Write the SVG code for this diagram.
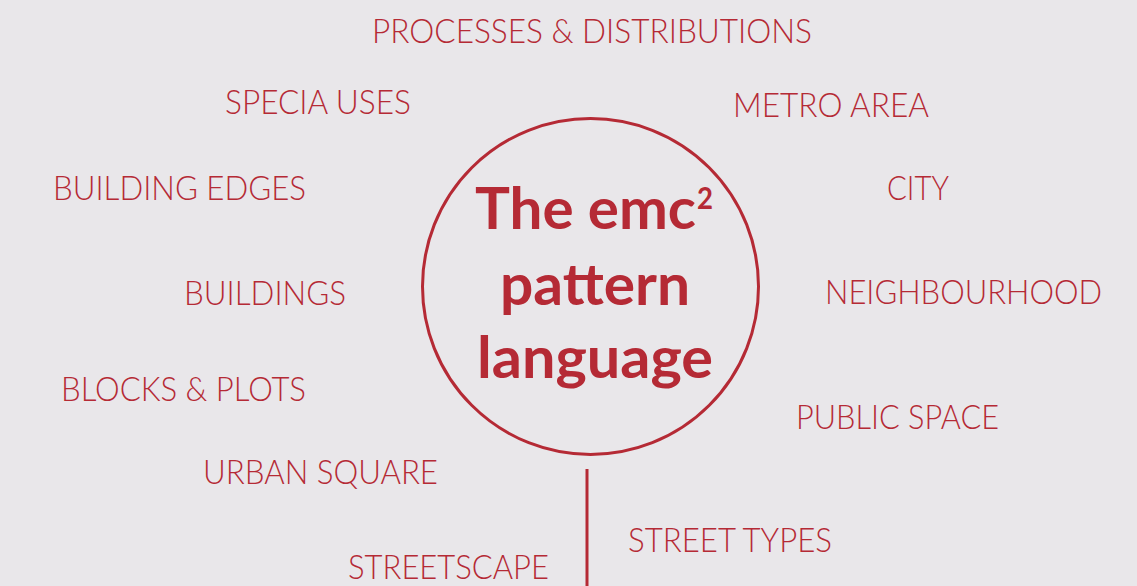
<svg xmlns="http://www.w3.org/2000/svg" width="1137" height="586" viewBox="0 0 1137 586">
<style>
.lbl{font-family:Lato,"Open Sans","Liberation Sans",sans-serif;font-weight:300;font-size:32.5px;fill:#b52a35}
.ttl{font-family:Lato,"Open Sans","Liberation Sans",sans-serif;font-weight:bold;font-size:58px;fill:#b52a35}
.ln{stroke:#b52a35;fill:none;stroke-width:3}
</style>
<rect width="1137" height="586" fill="#e9e7ea"/>
<g id="connectors">
<line class="ln" x1="587" y1="469" x2="587" y2="586"/>
</g>
<g id="center">
<circle class="ln" cx="590.5" cy="286.5" r="168"/>
<text class="ttl" x="475" y="229" textLength="221" lengthAdjust="spacingAndGlyphs">The emc</text>
<text class="ttl" x="697" y="209" style="font-size:31px" textLength="16" lengthAdjust="spacingAndGlyphs">2</text>
<text class="ttl" x="500" y="305" textLength="190" lengthAdjust="spacingAndGlyphs">pattern</text>
<text class="ttl" x="477" y="378" textLength="236" lengthAdjust="spacingAndGlyphs">language</text>
</g>
<g id="processes"><text class="lbl" x="372" y="43" textLength="440" lengthAdjust="spacingAndGlyphs">PROCESSES &amp; DISTRIBUTIONS</text></g>
<g id="specia-uses"><text class="lbl" x="225" y="114" textLength="186" lengthAdjust="spacingAndGlyphs">SPECIA USES</text></g>
<g id="metro-area"><text class="lbl" x="733" y="117" textLength="196" lengthAdjust="spacingAndGlyphs">METRO AREA</text></g>
<g id="building-edges"><text class="lbl" x="53" y="200" textLength="253" lengthAdjust="spacingAndGlyphs">BUILDING EDGES</text></g>
<g id="city"><text class="lbl" x="887" y="200" textLength="62" lengthAdjust="spacingAndGlyphs">CITY</text></g>
<g id="buildings"><text class="lbl" x="184" y="305" textLength="162" lengthAdjust="spacingAndGlyphs">BUILDINGS</text></g>
<g id="neighbourhood"><text class="lbl" x="825" y="304" textLength="277" lengthAdjust="spacingAndGlyphs">NEIGHBOURHOOD</text></g>
<g id="blocks-plots"><text class="lbl" x="61" y="401" textLength="245" lengthAdjust="spacingAndGlyphs">BLOCKS &amp; PLOTS</text></g>
<g id="public-space"><text class="lbl" x="796" y="429" textLength="203" lengthAdjust="spacingAndGlyphs">PUBLIC SPACE</text></g>
<g id="urban-square"><text class="lbl" x="203" y="484" textLength="235" lengthAdjust="spacingAndGlyphs">URBAN SQUARE</text></g>
<g id="street-types"><text class="lbl" x="628" y="552" textLength="204" lengthAdjust="spacingAndGlyphs">STREET TYPES</text></g>
<g id="streetscape"><text class="lbl" x="348" y="579" textLength="201" lengthAdjust="spacingAndGlyphs">STREETSCAPE</text></g>
</svg>
